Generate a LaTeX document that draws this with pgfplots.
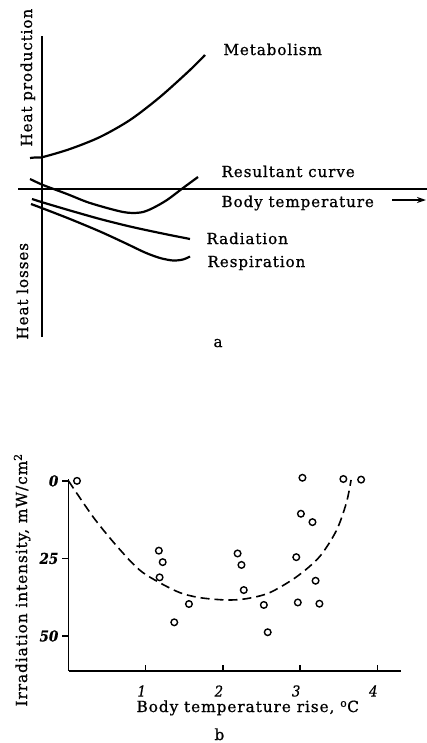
\documentclass[border=0pt]{standalone}
\usepackage{pgfplots}
\pgfplotsset{compat=1.18}
\usepackage{pgfplotstable}
\usetikzlibrary{arrows.meta}
\usepackage{fontspec}
\setmainfont{DejaVu Serif}
\newfontfamily\lblfont{DejaVu Serif}[LetterSpace=6, FakeBold=0.8]
\newfontfamily\numfont{DejaVu Serif Condensed}[FakeBold=0.6]
\newcommand\lblA{\lblfont\fontsize{15.2}{17}\selectfont}
\newcommand\lblB{\lblfont\fontsize{15.4}{17}\selectfont}

% measured points: body temperature rise (deg C) vs irradiation intensity (mW/cm^2)
\pgfplotstableread{
x     y
0.11  0.0
1.17  22.5
1.22  26.2
1.18  31.1
1.37  45.6
1.56  39.7
2.19  23.4
2.24  27.1
2.27  35.2
2.53  40.0
2.58  48.8
2.95  24.6
2.97  39.2
3.03  -1.0
3.01  10.6
3.16  13.3
3.20  32.2
3.25  39.6
3.56  -0.6
3.79  -0.4
}\pointsb

% fitted trend
\pgfplotstableread{
x     y
0.00  0.0
0.33  12.0
0.66  22.0
0.96  29.5
1.40  35.6
1.69  37.6
2.04  38.4
2.30  38.0
2.60  36.1
2.95  31.0
3.25  24.5
3.47  16.0
3.60  7.0
3.66  -0.3
}\trendb

\begin{document}
\begin{tikzpicture}
\path[use as bounding box] (0,0) rectangle (427bp,-743bp);

% ---- panel a: heat balance scheme ----
\begin{axis}[at={(18bp,-337bp)}, anchor=south west, scale only axis,
  width=409bp, height=301bp,
  xmin=-24, xmax=385, ymin=-148, ymax=153,
  axis lines*=middle, axis line style={line width=1.6bp},
  ticks=none, clip=false]
% metabolism
\addplot[smooth, line width=2.2bp] coordinates
  {(-12,31) (-6,31.6) (1,32) (28,40) (58,52) (88,69) (118,92) (148,119) (163,134)};
% resultant curve
\addplot[smooth, line width=2.2bp] coordinates
  {(-12,10) (1,4) (25,-5) (45,-13) (65,-19) (81,-23) (91,-24) (101,-23) (111,-19) (125,-11) (141,1) (156,12)};
% radiation
\addplot[smooth, line width=2.2bp] coordinates
  {(-10,-10) (1,-13.5) (28,-21.5) (58,-30) (88,-37.5) (118,-44) (148,-50)};
% respiration
\addplot[smooth, line width=2.2bp] coordinates
  {(-11,-15) (1,-19.5) (28,-30) (58,-42.5) (83,-54) (103,-63.5) (118,-69) (131,-71.5) (141,-70.5) (148,-67.5)};
\end{axis}

\node[anchor=base west, font=\lblA] at (220bp,-55bp) {Metabolism};
\node[anchor=base west, font=\lblA] at (218bp,-177bp) {Resultant curve};
\node[anchor=base west, font=\lblA] at (218bp,-207bp) {Body temperature};
\node[anchor=base west, font=\lblA] at (203bp,-244bp) {Radiation};
\node[anchor=base west, font=\lblA] at (204bp,-267bp) {Respiration};
\node[anchor=base west, rotate=90, font=\lblA] at (32bp,-150bp) {Heat production};
\node[anchor=base west, rotate=90, font=\lblA] at (28bp,-343bp) {Heat losses};
\node[anchor=base west, font=\lblA] at (210bp,-347bp) {a};
\draw[line width=1.6bp, -{Stealth[length=9bp,width=6bp]}] (392bp,-200bp) -- (426bp,-200bp);

% ---- panel b: irradiation intensity vs temperature rise ----
\begin{axis}[at={(68.5bp,-671bp)}, anchor=south west, scale only axis,
  width=332bp, height=192bp,
  xmin=0, xmax=4.3, ymin=-0.6, ymax=61.3, y dir=reverse,
  axis x line*=bottom, axis y line*=left,
  axis line style={line width=1.6bp},
  xtick={1,2,3,4}, ytick={0,25,50},
  tick align=outside, major tick length=6bp,
  tick style={line width=1.4bp, black},
  xtick style={yshift=6bp},
  /pgf/number format/assume math mode=true,
  xticklabel style={font=\numfont\fontsize{15}{17}\selectfont\itshape, anchor=center, inner sep=0pt, yshift=-14bp, xshift=-4bp},
  yticklabel style={font=\numfont\fontsize{15}{17}\selectfont\bfseries\itshape, anchor=east, inner sep=0pt, xshift=-4bp},
  clip=false]
\addplot[smooth, line width=1.6bp, dash pattern=on 9bp off 5bp] table[x=x, y=y] {\trendb};
\addplot[only marks, mark=o, mark size=3.3bp, mark options={line width=1.4bp}] table[x=x, y=y] {\pointsb};
\end{axis}

\node[anchor=base west, font=\lblB] at (133bp,-712bp) {Body temperature rise, \textsuperscript{o}C};
\node[anchor=base west, rotate=90, font=\lblB] at (27bp,-710bp) {Irradiation intensity, mW/cm\textsuperscript{2}};
\node[anchor=base west, font=\lblB] at (211bp,-740bp) {b};
\end{tikzpicture}
\end{document}
